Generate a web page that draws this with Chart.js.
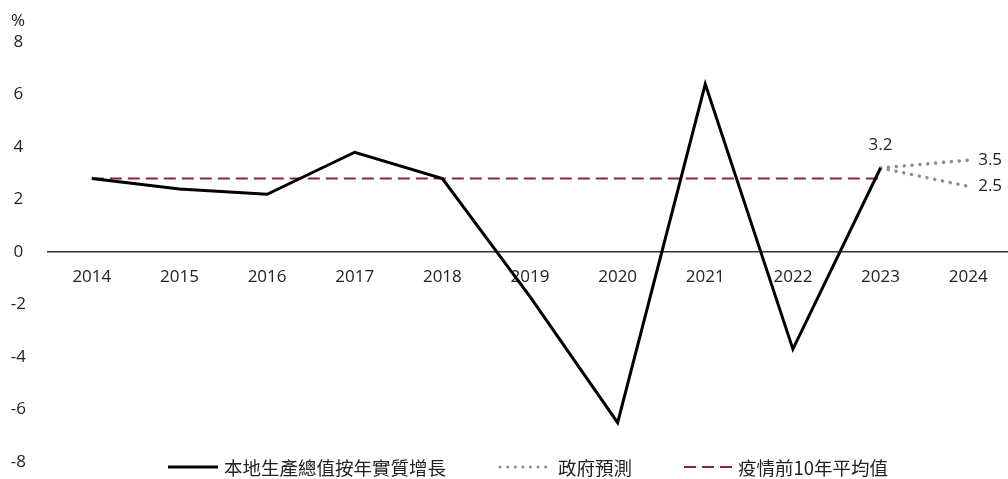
<!DOCTYPE html>
<html>
<head>
<meta charset="utf-8">
<script src="https://cdn.jsdelivr.net/npm/chart.js@4"></script>
<style>
  html, body { margin: 0; padding: 0; background: #fff; overflow: hidden; }
  #wrap { position: relative; width: 1012px; height: 479px; }
  #legend {
    position: absolute; left: 48px; width: 960px; top: 451px;
    text-align: center; white-space: nowrap; color: #222;
    font: 18.5px "Noto Sans CJK TC", "Open Sans", sans-serif;
  }
  .item { display: inline-flex; align-items: center; margin: 0 26px; }
  .item svg { margin-right: 4px; }
</style>
</head>
<body>
<div id="wrap">
  <canvas id="chart"></canvas>
  <div id="legend"></div>
</div>
<script>
const years = ['2014', '2015', '2016', '2017', '2018', '2019', '2020', '2021', '2022', '2023', '2024'];
const gdpGrowth = [2.8, 2.4, 2.2, 3.8, 2.8, -1.7, -6.5, 6.4, -3.7, 3.2, null];
const forecastHigh = [null, null, null, null, null, null, null, null, null, 3.2, 3.5];
const forecastLow = [null, null, null, null, null, null, null, null, null, 3.2, 2.5];
const preCovidAvg = [2.8, 2.8, 2.8, 2.8, 2.8, 2.8, 2.8, 2.8, 2.8, 2.8, null];
const seriesNames = ['本地生產總值按年實質增長', '政府預測', '疫情前10年平均值'];
const yTicks = { min: -8, max: 8, step: 2 };

const lastActual = 9;
const tickFont = { family: '"Open Sans", sans-serif', size: 17 };

// data labels + % unit
const valueLabels = {
  id: 'valueLabels',
  afterDatasetsDraw(chart) {
    const ctx = chart.ctx;
    ctx.save();
    ctx.font = '17px "Open Sans", sans-serif';
    ctx.fillStyle = '#222';
    ctx.textBaseline = 'middle';

    const p = chart.getDatasetMeta(0).data[lastActual];
    ctx.textAlign = 'center';
    ctx.fillText(gdpGrowth[lastActual].toFixed(1), p.x, p.y - 23);

    ctx.textAlign = 'left';
    [1, 2].forEach(i => {
      const last = years.length - 1;
      const pt = chart.getDatasetMeta(i).data[last];
      ctx.fillText(chart.data.datasets[i].data[last].toFixed(1), pt.x + 10, pt.y);
    });

    const ys = chart.scales.y;
    ctx.textAlign = 'center';
    ctx.fillText('%', ys.right - 30, ys.top - 21);
    ctx.restore();
  }
};

new Chart(document.getElementById('chart'), {
  type: 'line',
  data: {
    labels: years,
    datasets: [
      { label: seriesNames[0], data: gdpGrowth, borderColor: '#000', borderWidth: 3, pointRadius: 0, tension: 0 },
      { label: seriesNames[1], data: forecastHigh, borderColor: '#8f8f8f', borderWidth: 3.5, borderDash: [0.1, 7.8], borderCapStyle: 'round', pointRadius: 0 },
      { label: seriesNames[1], data: forecastLow, borderColor: '#8f8f8f', borderWidth: 3.5, borderDash: [0.1, 7.8], borderCapStyle: 'round', pointRadius: 0 },
      { label: seriesNames[2], data: preCovidAvg, borderColor: '#8b2346', borderWidth: 2, borderDash: [12, 6], pointRadius: 0 }
    ]
  },
  options: {
    responsive: true,
    maintainAspectRatio: false,
    animation: false,
    layout: { padding: { top: 42, bottom: 17, left: 0, right: 0 } },
    plugins: { legend: { display: false }, tooltip: { enabled: false } },
    scales: {
      x: {
        type: 'category',
        offset: true,
        position: { y: 0 },
        grid: { display: false, drawTicks: false },
        border: { display: true, color: '#333', width: 1.5 },
        ticks: { color: '#222', font: tickFont, padding: 15, maxRotation: 0 },
        afterFit(scale) { scale.height = 0; }
      },
      y: {
        min: yTicks.min, max: yTicks.max,
        grid: { display: false, drawTicks: false },
        border: { display: false },
        ticks: { stepSize: yTicks.step, color: '#222', font: tickFont, padding: 22, crossAlign: 'center' },
        afterFit(scale) {
          scale.width = 48;
          // tick padding shouldn't push the plot area in vertically
          scale.paddingTop = 0;
          scale.paddingBottom = 0;
        }
      }
    }
  },
  plugins: [valueLabels]
});

// legend
const swatches = [
  '<line x1="0" y1="5" x2="50" y2="5" stroke="#000" stroke-width="3"/>',
  '<line x1="2" y1="5" x2="54" y2="5" stroke="#8f8f8f" stroke-width="3" stroke-dasharray="0.1 7.5" stroke-linecap="round"/>',
  '<line x1="0" y1="5" x2="48" y2="5" stroke="#8b2346" stroke-width="2" stroke-dasharray="12 6"/>'
];
const widths = [52, 56, 50];
document.getElementById('legend').innerHTML = seriesNames.map((name, i) =>
  `<span class="item"><svg width="${widths[i]}" height="10">${swatches[i]}</svg>${name}</span>`
).join('');
</script>
</body>
</html>
